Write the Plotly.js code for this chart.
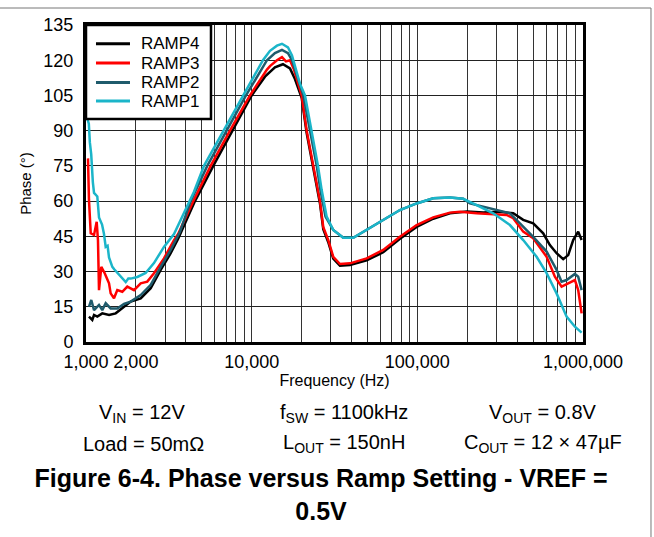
<!DOCTYPE html>
<html>
<head>
<meta charset="utf-8">
<script src="https://cdn.plot.ly/plotly-3.0.1.min.js"></script>
<style>
html,body{margin:0;padding:0;background:#fff;}
#chart{width:654px;height:537px;}
</style>
</head>
<body>
<div id="chart"></div>
<script>
// Frequency (Hz) and phase (deg) for each ramp setting
const ramp1Freq = [1010,1040,1055,1075,1100,1118,1170,1198,1250,1284,1315,1350,1377,1442,1480,1545,1650,1737,1800,1862,2042,2291,2572,2955,3398,3904,4087,4485,5154,6740,8899,11700,12900,14210,15240,16560,17510,18510,19560,20980,23020,25130,26460,28360,31080,35730,41050,49430,62260,78520,99030,124700,157300,189200,228000,287200,362200,435600,524800,603000,692800,796200,893600,980800];
const ramp1Phase = [96,93,85,80,68,63.5,62,53,50,46,40.5,41,36,32,31,29.4,27,25.5,27,27,27.7,29.4,33.6,40.5,46,55,58.5,64,75,90,105,120,124,126.2,127,125.5,122,116,110,105,90,75,64.7,53.4,47.7,44.4,44.4,47.7,52,56.2,59,61.2,61.5,61,58.3,54.8,49.8,43.4,36.3,29.3,20.7,10.8,6.5,4];

const ramp2Freq = [1042,1076,1118,1198,1254,1315,1409,1545,1696,1861,2139,2458,2824,3245,3693,4284,5395,7065,9240,12370,13820,15240,16560,17510,18760,20500,22500,24700,26000,27900,31080,35730,41050,49430,62260,78520,99030,124700,157300,189200,207700,249800,301100,362200,416100,500600,603000,692800,742600,796200,893600,935400,980800];
const ramp2Phase = [15,17.9,13.6,15.8,13.6,16.5,14.3,14.3,16.2,17.2,20,24.3,32,39.2,47,60,75,90,105,120,123,124.4,123,120,113.7,105,90,75,64.7,53.4,47.7,44.4,44.4,47.7,52,56.2,59,61.2,61.5,61,59,57.6,55.9,54.8,50.5,44.8,38.5,30.7,25.7,26.4,29,27.8,22.1];

const ramp3Freq = [1028,1042,1068,1118,1160,1181,1198,1237,1297,1377,1409,1476,1545,1656,1775,1949,2139,2344,2573,2956,3398,3600,4442,5656,7396,9765,12370,12900,14210,15240,16110,17030,18000,19030,20040,21480,23530,25840,27050,29000,31080,34130,39190,49430,62260,78520,99030,124700,157300,180800,228000,287200,345900,379200,435600,500600,603000,676600,742600,814200,893600,935400,980800];
const ramp3Phase = [78.2,60.5,46.3,45.6,51.2,43.4,22.1,32,29.3,25,20.7,18.6,22.1,21.4,23.6,22.1,25,25.7,29.3,35.6,43.4,46,60,75,90,105,116,117.5,120,121.3,119.5,120,116,110,105,90,75,60,49,43.4,36.3,33.2,33.5,35.6,39.2,44.8,49.8,53.1,55.1,55.5,54.8,54.5,54.1,52.7,47,44.2,36.3,27.8,23.6,25,26.4,22.1,12.2];

const ramp4Freq = [1042,1091,1118,1170,1254,1377,1511,1656,1861,2139,2458,2824,3245,3600,4548,5864,7679,10000,12030,13820,15450,17030,18250,19560,20040,21480,23530,25840,27050,29000,31080,34130,39190,49430,62260,78520,99030,124700,157300,199200,249800,315100,379200,435600,500600,575200,631200,692800,759300,814200,872800,935400,980800];
const ramp4Phase = [10.8,9.4,11.5,10.8,12.2,11.5,12.2,14.3,17.2,18.6,22.9,30.7,37.8,44,60,75,90,105,113,117,118.3,116.5,112,106,104,89,74,59,48,42.5,35.5,32.5,32.8,34.8,38.2,44,49,52.5,54.8,55.6,55.1,55.5,54.8,52,50.5,46.3,41.3,37.8,35.3,37,43.4,47,43.4];

const xTickVals = [1000,2000,3000,4000,5000,6000,7000,8000,9000,10000,20000,30000,40000,50000,60000,70000,80000,90000,100000,200000,300000,400000,500000,600000,700000,800000,900000,1000000];
const xTickText = ['1,000','2,000','','','','','','','','10,000','','','','','','','','','100,000','','','','','','','','','1,000,000'];
const yTickVals = [0,15,30,45,60,75,90,105,120,135];

const seriesNames = ['RAMP4','RAMP3','RAMP2','RAMP1'];
const seriesColors = ['#000000','#ff0000','#1f5b6c','#1bb5c9'];
const freqs = [ramp4Freq, ramp3Freq, ramp2Freq, ramp1Freq];
const phases = [ramp4Phase, ramp3Phase, ramp2Phase, ramp1Phase];

const font = 'Liberation Sans, Arial, sans-serif';

const traces = seriesNames.map((n,i)=>({
  x: freqs[i], y: phases[i], name: n, type:'scatter', mode:'lines',
  line:{color:seriesColors[i], width:2.5}, showlegend:false
}));

const ann = (text, x, y, size) => ({
  text: text, x: x, y: y, xref:'paper', yref:'paper', showarrow:false,
  xanchor:'center', yanchor:'middle',
  font:{family:font, size:size, color:'#000'}
});

// Legend box (drawn as layout decoration, entries from seriesNames/colors)
const legendRows = [0.941, 0.880, 0.819, 0.760];
const shapes = [
  {type:'rect', xref:'paper', yref:'paper', x0:0, x1:0.2515, y0:0.7035, y1:1,
   fillcolor:'#fff', line:{color:'#000', width:2.5}, layer:'above'},
  {type:'line', xref:'paper', yref:'paper', x0:-0.2, x1:1.1368, y0:1.0536, y1:1.0536, line:{color:'#777', width:1}},
  {type:'line', xref:'paper', yref:'paper', x0:1.1368, x1:1.1368, y0:1.0536, y1:-0.7, line:{color:'#777', width:1}}
];
const annotations = [
  ann('V<sub>IN</sub> = 12V', 0.1127, -0.224, 20),
  ann('f<sub>SW</sub> = 1100kHz', 0.519, -0.224, 20),
  ann('V<sub>OUT</sub> = 0.8V', 0.9195, -0.224, 20),
  ann('Load = 50mΩ', 0.1167, -0.321, 20),
  ann('L<sub>OUT</sub> = 150nH', 0.519, -0.321, 20),
  ann('C<sub>OUT</sub> = 12 × 47µF', 0.9195, -0.321, 20)
];
seriesNames.forEach((n,i)=>{
  shapes.push({type:'line', xref:'paper', yref:'paper', x0:0.0201, x1:0.0885,
    y0:legendRows[i], y1:legendRows[i], line:{color:seriesColors[i], width:3}, layer:'above'});
  annotations.push({text:n, x:0.1087, y:legendRows[i], xref:'paper', yref:'paper',
    showarrow:false, xanchor:'left', yanchor:'middle', borderpad:0,
    font:{family:font, size:17, color:'#000'}});
});

const layout = {
  width:654, height:537,
  margin:{l:86, r:71, t:25, b:195},
  paper_bgcolor:'#fff', plot_bgcolor:'#fff',
  showlegend:false,
  xaxis:{type:'log', range:[3,6], tickvals:xTickVals, ticktext:xTickText,
    showgrid:true, gridcolor:'#333', gridwidth:1,
    showline:true, linecolor:'#000', linewidth:3, mirror:true,
    ticks:'', ticklabelstandoff:1, zeroline:false,
    tickfont:{family:font, size:18, color:'#000'},
    title:{text:'Frequency (Hz)', font:{family:font, size:16, color:'#000'}, standoff:0}},
  yaxis:{range:[0,135], tickvals:yTickVals,
    showgrid:true, gridcolor:'#222', gridwidth:1,
    showline:true, linecolor:'#000', linewidth:3, mirror:true,
    ticks:'', ticklabelstandoff:6, zeroline:false,
    tickfont:{family:font, size:18, color:'#000'},
    title:{text:'Phase (°)', font:{family:font, size:15, color:'#000'}, standoff:9}},
  title:{text:'<b>Figure 6-4. Phase versus Ramp Setting - VREF =<br>0.5V</b>',
    font:{family:font, size:25, color:'#000'},
    xref:'paper', x:0.473, xanchor:'center', yref:'container', y:0.093, yanchor:'middle'},
  annotations: annotations,
  shapes: shapes
};

Plotly.newPlot('chart', traces, layout, {displayModeBar:false, staticPlot:true});
</script>
</body>
</html>
